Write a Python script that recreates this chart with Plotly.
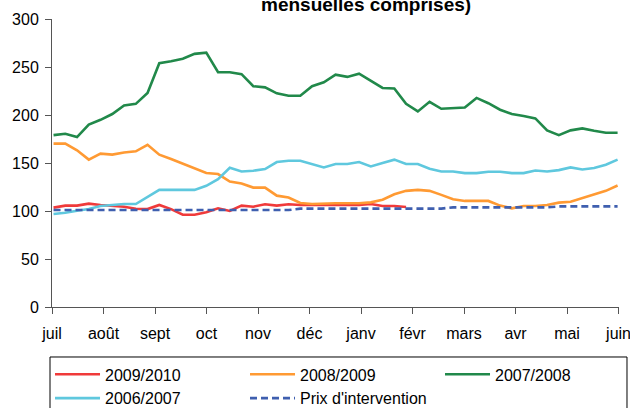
import plotly.graph_objects as go

# week index from early July (0) to end of June (48)
weeks = list(range(49))
months = ["juil", "août", "sept", "oct", "nov", "déc", "janv", "févr", "mars", "avr", "mai", "juin"]

s_2009_2010 = [103.5, 105.6, 105.6, 107.7, 106.3, 105.2, 104.5, 102.4, 102, 106.3, 102, 96.1, 96.1, 98.6,
               102.8, 100, 105.6, 104.5, 107, 105.6, 107, 106.3, 106.3, 106.3, 106.3, 106.3, 106.3, 107.3,
               105.2, 105.2, 104.2]
s_2008_2009 = [170.2, 170.2, 163.2, 153.5, 159.7, 158.7, 161, 162.2, 168.9, 158.7, 154.2, 149.3, 143.7,
               139.5, 138.5, 130.7, 128.6, 124.4, 124.4, 116, 114, 108.4, 107.3, 108, 108, 108, 108, 109,
               111.8, 117.5, 121, 122, 121, 116.8, 112.2, 110.5, 110.5, 110.5, 105.6, 102.8, 105.2, 105.2,
               106.3, 108.7, 109.7, 113.3, 117.5, 121, 126.5]
s_2007_2008 = [179, 180.4, 177, 190, 195, 201, 210, 211.6, 223, 254, 256, 258.6, 263.7, 265, 244.6, 244.6,
               242.5, 230, 228.8, 222.6, 220, 220, 230, 234, 242, 239.7, 243, 235.4, 228.2, 227.6, 211.6,
               203.7, 213.7, 206.5, 206.8, 207.8, 217.8, 212.3, 205.5, 201, 199, 196.5, 184, 179, 184, 186,
               183.6, 181.5, 181.5]
s_2006_2007 = [96.9, 98.2, 100.3, 102, 105.2, 106.3, 107.3, 107.3, 115, 122, 122, 122, 122, 126.2, 133.2,
               145, 141.2, 142, 143.7, 151, 152.4, 152.4, 149, 145.4, 149, 149, 151, 146.4, 150, 153.5, 149,
               149, 144, 141.2, 141.2, 139.5, 139.5, 140.9, 140.9, 139.5, 139.5, 142.2, 141.2, 142.6, 145.4,
               143.3, 144.8, 148.2, 153.5]
prix_intervention = [101, 101, 101, 101, 101, 101, 101, 101, 101, 101, 101, 101, 101, 101, 101, 101, 101,
                     101, 101, 101, 101, 102.5, 102.5, 102.5, 102.5, 102.5, 102.5, 102.5, 102.5, 102.5,
                     102.5, 102.5, 102.5, 102.5, 103.8, 103.8, 103.8, 103.8, 103.8, 103.8, 103.8, 103.8,
                     103.8, 104.8, 104.8, 104.8, 104.8, 104.8, 104.8]

series = [
    ("2009/2010", s_2009_2010, "#F03A3A", "solid"),
    ("2008/2009", s_2008_2009, "#FF9A33", "solid"),
    ("2007/2008", s_2007_2008, "#21894A", "solid"),
    ("2006/2007", s_2006_2007, "#5FC8DE", "solid"),
    ("Prix d'intervention", prix_intervention, "#3F5FAF", "7px,4px"),
]

fig = go.Figure()
for name, vals, color, dash in series:
    fig.add_trace(go.Scatter(
        x=weeks[:len(vals)], y=vals, name=name, mode="lines",
        line=dict(color=color, width=2.6, dash=dash),
    ))

month_pos = [k * 48.21 / 11 - 0.13 for k in range(len(months))]
axis_color = "#555555"
font = "Liberation Sans, Arial, sans-serif"

fig.update_layout(
    width=630, height=408,
    margin=dict(l=52, r=11, t=19, b=101, autoexpand=False),
    paper_bgcolor="white", plot_bgcolor="white",
    font=dict(family=font, size=16, color="black"),
    showlegend=True,
    legend=dict(
        orientation="h", x=-0.0035, xanchor="left", y=-0.175, yanchor="top",
        borderwidth=0, bgcolor="rgba(0,0,0,0)",
        entrywidth=135, entrywidthmode="pixels", itemwidth=45,
        font=dict(family=font, size=16, color="black"),
        traceorder="normal",
    ),
    xaxis=dict(
        range=[-0.13, 48.12], tickmode="array", tickvals=month_pos, ticktext=months,
        showgrid=False, zeroline=False, showline=True, linecolor=axis_color, linewidth=1,
        ticks="outside", ticklen=6, tickcolor=axis_color, ticklabelstandoff=6,
        ticklabeloverflow="allow",
        tickfont=dict(family=font, size=16, color="black"), automargin=False,
    ),
    yaxis=dict(
        range=[0, 300], tickvals=[0, 50, 100, 150, 200, 250, 300],
        showgrid=False, zeroline=False, showline=True, linecolor=axis_color, linewidth=1,
        ticks="outside", ticklen=6, tickcolor=axis_color, ticklabelstandoff=3,
        tickfont=dict(family=font, size=16, color="black"), automargin=False,
    ),
    shapes=[dict(
        type="rect", xref="paper", yref="paper",
        x0=-0.0035, x1=1.0141, y0=-0.1736, y1=-0.40,
        line=dict(color="black", width=1), fillcolor="rgba(0,0,0,0)", layer="below",
    )],
    annotations=[dict(
        text="<b>mensuelles comprises)</b>", xref="paper", yref="paper",
        x=0.553, y=1.051, xanchor="center", yanchor="middle", showarrow=False,
        font=dict(family=font, size=19, color="black"),
    )],
)

fig.write_html("out.html", config={"displayModeBar": False},
               post_script="document.body.style.margin='0px';")
